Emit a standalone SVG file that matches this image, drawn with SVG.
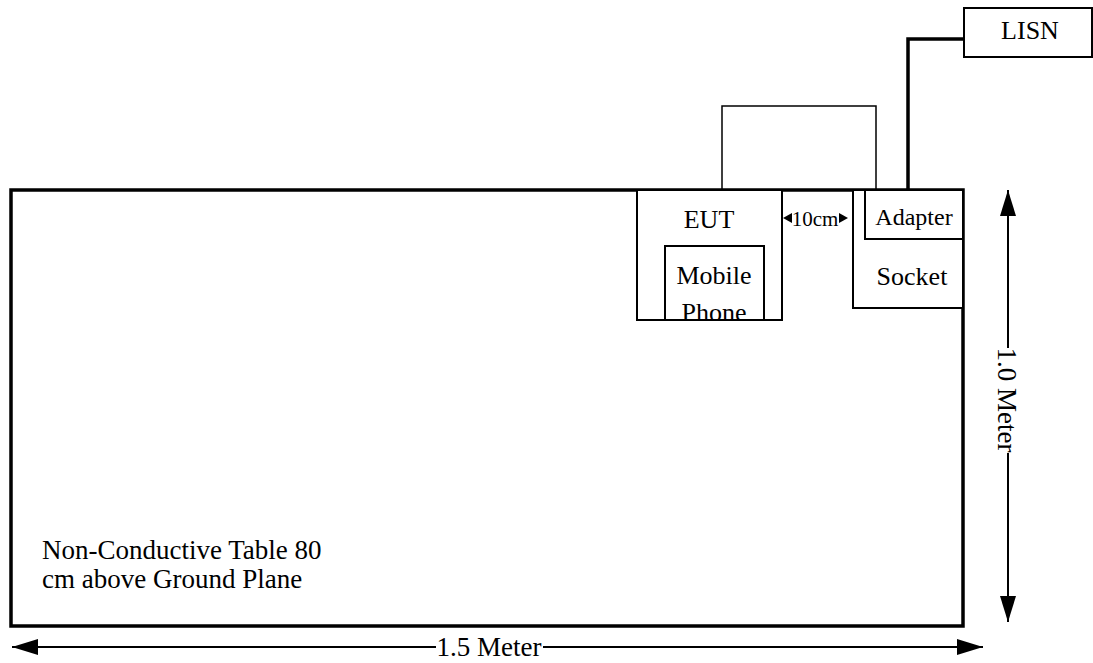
<svg xmlns="http://www.w3.org/2000/svg" width="1093" height="663" viewBox="0 0 1093 663">
<style>
.lbl{font-size:26px;text-anchor:middle;}
.box{fill:#fff;stroke:#000;stroke-width:2;}
.thick{fill:none;stroke:#000;stroke-width:3.5;}
.thin{fill:none;stroke:#000;stroke-width:1.5;}
.dim{fill:none;stroke:#000;stroke-width:2;}
</style>
<defs>
<marker id="ah" viewBox="0 0 26 16" refX="26" refY="8" markerWidth="26" markerHeight="16" markerUnits="userSpaceOnUse" orient="auto-start-reverse">
<path d="M0,0 L26,8 L0,16 Z" fill="#000"/>
</marker>
</defs>
<rect width="1093" height="663" fill="#fff"/>
<g font-family="'Liberation Serif', 'Times New Roman', 'DejaVu Serif', serif" fill="#000">
<g id="table">
<rect x="11" y="190" width="952" height="436" class="thick" fill="#fff"/>
<text x="42" y="559" font-size="27">Non-Conductive Table 80</text>
<text x="42" y="588" font-size="27">cm above Ground Plane</text>
</g>
<g id="connectors">
<polyline points="722,190 722,106 876,106 876,190" class="thin"/>
<polyline points="908,190 908,39 964,39" class="thick"/>
<line x1="1008" y1="190" x2="1008" y2="348" class="dim" marker-start="url(#ah)"/>
<line x1="1008" y1="453" x2="1008" y2="622" class="dim" marker-end="url(#ah)"/>
<line x1="12" y1="647" x2="436" y2="647" class="dim" marker-start="url(#ah)"/>
<line x1="543" y1="647" x2="983" y2="647" class="dim" marker-end="url(#ah)"/>
</g>
<g id="eut">
<rect x="637" y="190" width="145" height="130" class="box"/>
<text x="709" y="228" class="lbl">EUT</text>
</g>
<g id="mobile-phone">
<text x="714" y="284" class="lbl">Mobile</text>
<text x="714" y="321" class="lbl">Phone</text>
<rect x="665" y="246" width="99" height="74" fill="none" stroke="#000" stroke-width="2"/>
</g>
<g id="socket">
<rect x="853" y="190" width="110" height="118" class="box"/>
<text x="912" y="285" class="lbl">Socket</text>
</g>
<g id="adapter">
<rect x="865" y="190" width="98" height="49" class="box"/>
<text x="914" y="225" font-size="24" text-anchor="middle">Adapter</text>
</g>
<g id="lisn">
<rect x="964" y="8" width="128" height="49" class="box"/>
<text x="1030" y="39" class="lbl">LISN</text>
</g>
<g id="dim-10cm">
<path d="M783,218 L792,213 L792,223 Z" fill="#000"/>
<text x="815" y="226" font-size="21" text-anchor="middle">10cm</text>
<path d="M848,218 L839,213 L839,223 Z" fill="#000"/>
</g>
<g id="dim-labels">
<text x="489" y="656" font-size="27" text-anchor="middle">1.5 Meter</text>
<text transform="translate(1008,400) rotate(90)" x="0" y="10" font-size="27" text-anchor="middle">1.0 Meter</text>
</g>
</g>
</svg>
